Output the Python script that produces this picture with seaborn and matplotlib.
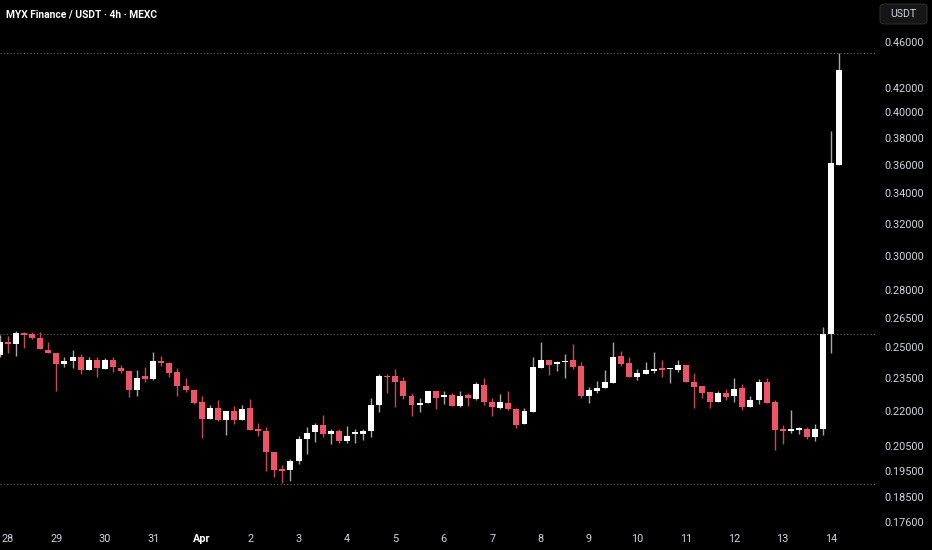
import matplotlib
matplotlib.use("Agg")
import matplotlib.pyplot as plt
from matplotlib.patches import FancyBboxPatch
import numpy as np
import pandas as pd
import seaborn as sns

# MYX Finance / USDT, 4h candles, first one is 27 Mar 20:00
opens = [0.2459, 0.2526, 0.2514, 0.2571, 0.2565, 0.2544, 0.2484, 0.2468, 0.2416, 0.2428, 0.2451,
         0.2384, 0.2435, 0.2393, 0.2435, 0.2398, 0.2382, 0.2294, 0.2358, 0.2345, 0.2431,
         0.2418, 0.2375, 0.2311, 0.2293, 0.2237, 0.2162, 0.2213, 0.2159, 0.2200, 0.2159,
         0.2212, 0.2120, 0.2114, 0.2023, 0.1957, 0.1954, 0.1989, 0.2078, 0.2109, 0.2136,
         0.2099, 0.2114, 0.2070, 0.2100, 0.2100, 0.2110, 0.2225, 0.2358, 0.2358, 0.2334,
         0.2266, 0.2226, 0.2233, 0.2290, 0.2260, 0.2271, 0.2222, 0.2270, 0.2252, 0.2316,
         0.2240, 0.2213, 0.2234, 0.2209, 0.2141, 0.2196, 0.2396, 0.2435, 0.2416, 0.2424,
         0.2435, 0.2404, 0.2266, 0.2288, 0.2301, 0.2323, 0.2454, 0.2418, 0.2353, 0.2368,
         0.2382, 0.2391, 0.2390, 0.2387, 0.2412, 0.2329, 0.2311, 0.2284, 0.2240, 0.2279,
         0.2263, 0.2300, 0.2215, 0.2245, 0.2331, 0.2236, 0.2117, 0.2114, 0.2117, 0.2120,
         0.2087, 0.2120, 0.2565, 0.3598]
highs = [0.2560, 0.2555, 0.2579, 0.2574, 0.2574, 0.2576, 0.2523, 0.2468, 0.2451, 0.2484, 0.2462,
         0.2449, 0.2451, 0.2444, 0.2448, 0.2411, 0.2382, 0.2386, 0.2401, 0.2472, 0.2454,
         0.2426, 0.2398, 0.2347, 0.2294, 0.2264, 0.2225, 0.2248, 0.2200, 0.2222, 0.2225,
         0.2252, 0.2148, 0.2130, 0.2023, 0.1973, 0.1996, 0.2089, 0.2130, 0.2145, 0.2181,
         0.2122, 0.2122, 0.2132, 0.2122, 0.2122, 0.2255, 0.2368, 0.2366, 0.2390, 0.2355,
         0.2278, 0.2257, 0.2290, 0.2290, 0.2288, 0.2278, 0.2288, 0.2278, 0.2331, 0.2347,
         0.2257, 0.2273, 0.2287, 0.2213, 0.2212, 0.2451, 0.2523, 0.2435, 0.2431, 0.2464,
         0.2514, 0.2424, 0.2305, 0.2334, 0.2387, 0.2523, 0.2481, 0.2451, 0.2390, 0.2424,
         0.2474, 0.2435, 0.2395, 0.2435, 0.2412, 0.2372, 0.2311, 0.2284, 0.2288, 0.2296,
         0.2347, 0.2319, 0.2263, 0.2342, 0.2347, 0.2245, 0.2138, 0.2203, 0.2130, 0.2130,
         0.2142, 0.2600, 0.3854, 0.4505]
lows = [0.2451, 0.2469, 0.2456, 0.2493, 0.2538, 0.2491, 0.2469, 0.2290, 0.2401, 0.2398, 0.2367,
        0.2384, 0.2355, 0.2393, 0.2377, 0.2372, 0.2260, 0.2263, 0.2331, 0.2339, 0.2406,
        0.2355, 0.2263, 0.2285, 0.2228, 0.2083, 0.2162, 0.2156, 0.2096, 0.2141, 0.2159,
        0.2117, 0.2092, 0.1951, 0.1925, 0.1902, 0.1909, 0.1976, 0.2017, 0.2064, 0.2087,
        0.2057, 0.2061, 0.2061, 0.2061, 0.2075, 0.2087, 0.2196, 0.2281, 0.2215, 0.2251,
        0.2177, 0.2196, 0.2233, 0.2206, 0.2230, 0.2219, 0.2215, 0.2221, 0.2248, 0.2224,
        0.2177, 0.2207, 0.2203, 0.2124, 0.2141, 0.2196, 0.2396, 0.2363, 0.2382, 0.2347,
        0.2389, 0.2258, 0.2233, 0.2278, 0.2301, 0.2323, 0.2406, 0.2353, 0.2339, 0.2368,
        0.2374, 0.2355, 0.2323, 0.2379, 0.2328, 0.2210, 0.2258, 0.2210, 0.2240, 0.2248,
        0.2240, 0.2203, 0.2215, 0.2230, 0.2233, 0.2034, 0.2058, 0.2103, 0.2099, 0.2079,
        0.2072, 0.2096, 0.2471, 0.3598]
closes = [0.2526, 0.2513, 0.2571, 0.2560, 0.2544, 0.2491, 0.2469, 0.2416, 0.2429, 0.2451, 0.2386,
          0.2435, 0.2395, 0.2435, 0.2401, 0.2382, 0.2293, 0.2350, 0.2342, 0.2428, 0.2421,
          0.2372, 0.2311, 0.2291, 0.2234, 0.2164, 0.2212, 0.2159, 0.2200, 0.2159, 0.2209,
          0.2117, 0.2113, 0.2023, 0.1954, 0.1951, 0.1989, 0.2078, 0.2103, 0.2136, 0.2100,
          0.2114, 0.2072, 0.2092, 0.2103, 0.2114, 0.2225, 0.2358, 0.2352, 0.2331, 0.2266,
          0.2224, 0.2231, 0.2290, 0.2257, 0.2269, 0.2222, 0.2267, 0.2258, 0.2319, 0.2239,
          0.2215, 0.2240, 0.2206, 0.2138, 0.2197, 0.2401, 0.2435, 0.2412, 0.2424, 0.2430,
          0.2401, 0.2266, 0.2293, 0.2301, 0.2331, 0.2451, 0.2416, 0.2353, 0.2372, 0.2386,
          0.2391, 0.2387, 0.2395, 0.2412, 0.2328, 0.2307, 0.2281, 0.2240, 0.2278, 0.2260,
          0.2297, 0.2217, 0.2245, 0.2331, 0.2233, 0.2117, 0.2113, 0.2120, 0.2121, 0.2087,
          0.2120, 0.2565, 0.3610, 0.4352]

day_labels = ['28', '29', '30', '31', 'Apr', '2', '3', '4', '5', '6', '7', '8', '9',
              '10', '11', '12', '13', '14']
price_ticks = [0.176, 0.185, 0.195, 0.205, 0.22, 0.235, 0.25, 0.265, 0.28, 0.30,
               0.32, 0.34, 0.36, 0.38, 0.40, 0.42, 0.46]
level_lines = [0.4505, 0.2565, 0.1898]

UP = '#ffffff'
DOWN = '#f05365'
TXT = '#d1d4dc'

df = pd.DataFrame({'open': opens, 'high': highs, 'low': lows, 'close': closes})
df['x'] = np.arange(len(df)) - 1
df['up'] = df['close'] >= df['open']
df['bottom'] = df[['open', 'close']].min(axis=1)
df['height'] = np.maximum((df['close'] - df['open']).abs(), df['bottom'] * 0.003)

sns.set_theme(style='dark', rc={'axes.facecolor': 'black', 'figure.facecolor': 'black'})
plt.rcParams['font.family'] = ['Roboto', 'DejaVu Sans']

fig = plt.figure(figsize=(9.32, 5.5), dpi=100)
ax = fig.add_axes([0, 1 - 528 / 550, 877 / 932, 528 / 550])
ax.set_facecolor('black')

ax.set_yscale('log')
ax.set_ylim(0.1739, 0.5007)
ax.set_xlim(-0.99, 107.68)

for lvl in level_lines:
    ax.axhline(lvl, color='#6a6a6a', lw=0.8, ls=(0, (1, 2)), zorder=1)

wick_cols = np.where(df['up'], '#a8a8a8', '#c9485a')
body_cols = np.where(df['up'], UP, DOWN)
ax.vlines(df['x'], df['low'], df['high'], colors=wick_cols, lw=1, zorder=2)
ax.bar(df['x'], df['height'], bottom=df['bottom'], width=0.74, color=body_cols,
       linewidth=0, zorder=3)

ax.yaxis.tick_right()
ax.set_yticks(price_ticks)
ax.set_yticklabels([f'{t:.5f}' for t in price_ticks])
ax.yaxis.set_minor_locator(matplotlib.ticker.NullLocator())
ax.tick_params(axis='y', length=0, pad=5, labelsize=7.8, labelcolor=TXT)

ax.set_xticks(np.arange(0, 6 * len(day_labels), 6))
ax.set_xticklabels(day_labels)
ax.tick_params(axis='x', length=0, pad=4, labelsize=7.8, labelcolor=TXT)
for lab in ax.get_xticklabels():
    if lab.get_text() == 'Apr':
        lab.set_fontweight('bold')
        lab.set_color('white')

ax.grid(False)
for s in ax.spines.values():
    s.set_visible(False)

fig.text(6 / 932, 1 - 14 / 550, 'MYX Finance / USDT · 4h · MEXC', color='white',
         fontsize=7.4, fontweight='bold', va='center', ha='left')

box = FancyBboxPatch((880 / 932, 1 - 24 / 550), 47 / 932, 20 / 550,
                     boxstyle='round,pad=0,rounding_size=0.006', transform=fig.transFigure,
                     facecolor='#161616', edgecolor='#2c2c2c', lw=0.8)
fig.patches.append(box)
fig.text(903.5 / 932, 1 - 14 / 550, 'USDT', color=TXT, fontsize=7.6,
         va='center', ha='center')

fig.savefig('out.png', dpi=100, facecolor='black')
